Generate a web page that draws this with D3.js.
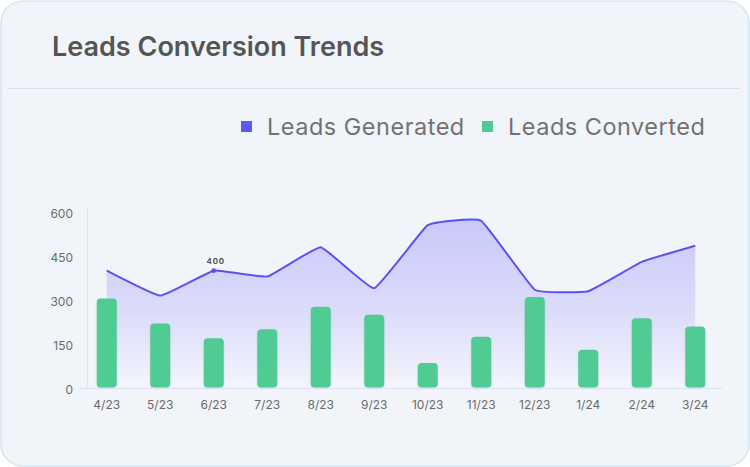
<!DOCTYPE html>
<html>
<head>
<meta charset="utf-8">
<script src="https://cdn.jsdelivr.net/npm/d3@7"></script>
<style>
  html, body { margin: 0; padding: 0; background: #ffffff; }
  svg { display: block; font-family: Inter, "Noto Sans", sans-serif; }
</style>
</head>
<body>
<svg id="chart" width="750" height="467"></svg>
<script>
const months = ['4/23', '5/23', '6/23', '7/23', '8/23', '9/23', '10/23', '11/23', '12/23', '1/24', '2/24', '3/24'];
const leadsGenerated = [400, 315, 400, 380, 480, 340, 555, 570, 335, 330, 430, 485];
const leadsConverted = [305, 220, 170, 200, 277, 250, 85, 175, 310, 130, 238, 210];
const yTicks = [0, 150, 300, 450, 600];
const annotated = { index: 2, label: '400' };

const svg = d3.select('#chart');

// card
svg.append('rect')
    .attr('x', 1).attr('y', 1)
    .attr('width', 748).attr('height', 465)
    .attr('rx', 22)
    .attr('fill', '#f1f5f9')
    .attr('stroke', '#c9dff2')
    .attr('stroke-width', 1.2);

svg.append('text')
    .attr('x', 52).attr('y', 56)
    .attr('font-size', 27).attr('font-weight', 600)
    .attr('fill', '#555555')
    .text('Leads Conversion Trends');

svg.append('line')
    .attr('x1', 7).attr('x2', 740)
    .attr('y1', 88.5).attr('y2', 88.5)
    .attr('stroke', '#d9def2');

// legend
const legend = [
    { name: 'Leads Generated', color: '#5b58fb', x: 241 },
    { name: 'Leads Converted', color: '#4fcb93', x: 482 }
];
const lg = svg.append('g').selectAll('g').data(legend).enter().append('g')
    .attr('transform', d => `translate(${d.x},121)`);
lg.append('rect').attr('width', 11).attr('height', 11).attr('fill', d => d.color);
lg.append('text')
    .attr('x', 26).attr('y', 13.5)
    .attr('font-size', 23.5).attr('fill', '#727272')
    .attr('letter-spacing', 0.5)
    .text(d => d.name);

// scales
const x = d3.scaleBand().domain(months).range([80, 722]).padding(0);
const y = d3.scaleLinear().domain([0, 600]).range([388, 212]);
const cx = d => x(d) + x.bandwidth() / 2;

const defs = svg.append('defs');
const grad = defs.append('linearGradient').attr('id', 'areaGrad')
    .attr('x1', 0).attr('x2', 0).attr('y1', 0).attr('y2', 1);
grad.append('stop').attr('offset', '0%').attr('stop-color', '#c9c8fa');
grad.append('stop').attr('offset', '55%').attr('stop-color', '#dcdcfa');
grad.append('stop').attr('offset', '100%').attr('stop-color', '#f4f5fc');

const shadow = defs.append('filter').attr('id', 'barShadow')
    .attr('x', '-30%').attr('y', '-10%').attr('width', '160%').attr('height', '130%');
shadow.append('feDropShadow')
    .attr('dx', 0).attr('dy', 1).attr('stdDeviation', 1.2)
    .attr('flood-color', '#000').attr('flood-opacity', 0.12);

// axes lines
svg.append('line')
    .attr('x1', 87.5).attr('x2', 87.5).attr('y1', 207).attr('y2', 388)
    .attr('stroke', '#e4e6f7');

// y labels
svg.append('g').selectAll('text').data(yTicks).enter().append('text')
    .attr('x', 73).attr('y', d => y(d) + 6)
    .attr('text-anchor', 'end')
    .attr('font-size', 12).attr('fill', '#6b6b6b')
    .text(d => d);

// area + line
const pts = months.map((m, i) => [cx(m), y(leadsGenerated[i])]);
const curve = d3.curveCardinal.tension(0.7);
svg.append('path')
    .datum(pts)
    .attr('fill', 'url(#areaGrad)')
    .attr('d', d3.area().x(d => d[0]).y0(y(0)).y1(d => d[1]).curve(curve));

// bars
svg.append('g').selectAll('rect').data(months).enter().append('rect')
    .attr('x', d => cx(d) - 10)
    .attr('width', 20)
    .attr('y', (d, i) => y(leadsConverted[i]))
    .attr('height', (d, i) => y(0) - y(leadsConverted[i]) - 0.5)
    .attr('rx', 4)
    .attr('fill', '#4fcb93')
    .attr('filter', 'url(#barShadow)');

svg.append('path')
    .datum(pts)
    .attr('fill', 'none')
    .attr('stroke', '#5a52f3')
    .attr('stroke-width', 2)
    .attr('stroke-linejoin', 'round')
    .attr('d', d3.line().curve(curve));

svg.append('line')
    .attr('x1', 80).attr('x2', 722).attr('y1', 388.5).attr('y2', 388.5)
    .attr('stroke', '#dedffa');

// annotation
const ap = pts[annotated.index];
svg.append('rect')
    .attr('x', ap[0] - 11).attr('y', ap[1] - 15)
    .attr('width', 22).attr('height', 11).attr('rx', 4)
    .attr('fill', '#f6f7fb').attr('opacity', 0.9);
svg.append('text')
    .attr('x', ap[0] + 2).attr('y', ap[1] - 6.5)
    .attr('text-anchor', 'middle')
    .attr('font-size', 8).attr('font-weight', 600)
    .attr('letter-spacing', 0.8)
    .attr('fill', '#444')
    .text(annotated.label);
svg.append('circle')
    .attr('cx', ap[0]).attr('cy', ap[1]).attr('r', 2.3)
    .attr('fill', '#5a52f3');

// x labels
svg.append('g').selectAll('text').data(months).enter().append('text')
    .attr('x', d => cx(d))
    .attr('y', 409)
    .attr('text-anchor', 'middle')
    .attr('font-size', 12).attr('fill', '#6b6b6b')
    .text(d => d);
</script>
</body>
</html>
